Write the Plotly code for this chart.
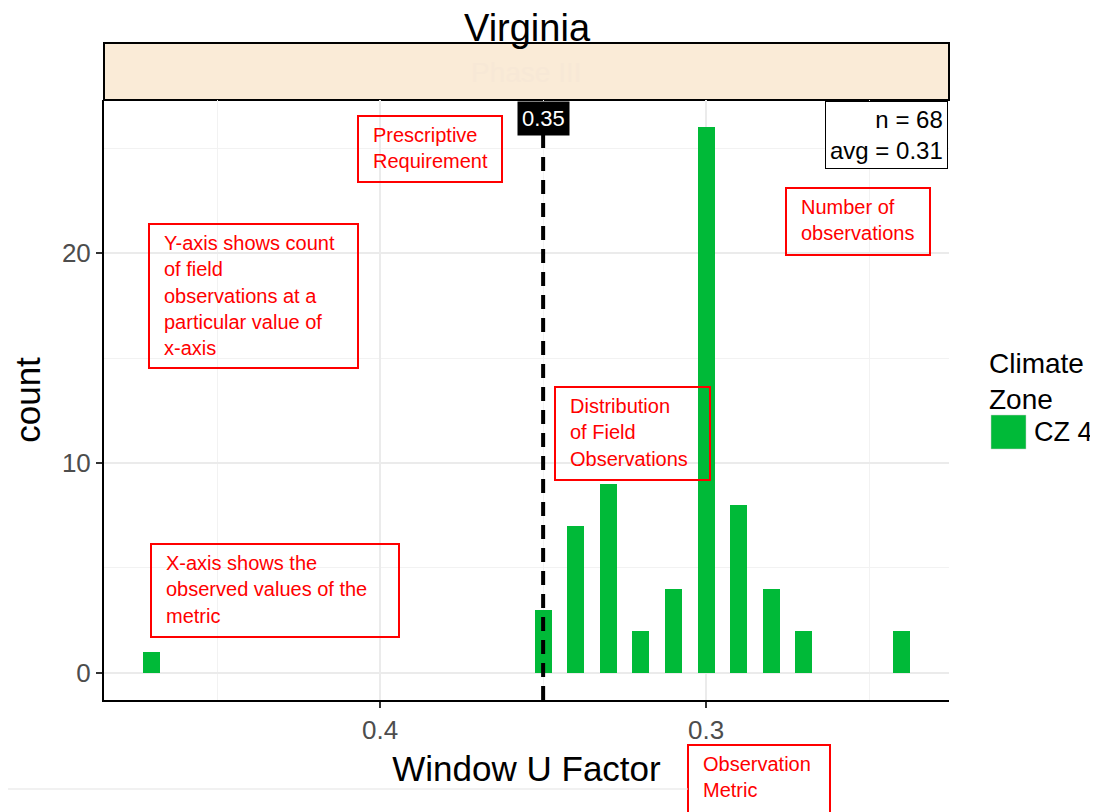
import plotly.graph_objects as go

# observed window U-factor values and counts
u_factor = [0.47, 0.35, 0.34, 0.33, 0.32, 0.31, 0.30, 0.29, 0.28, 0.27, 0.24]
counts = [1, 3, 7, 9, 2, 4, 26, 8, 4, 2, 2]
requirement = 0.35
n_obs = 68
avg_u = 0.31

# callout boxes: (x0, y0, x1, y1) in pixels, lines of text
callouts = [
    ((358, 116, 502, 182), ["Prescriptive", "Requirement"]),
    ((149, 224, 358, 368), ["Y-axis shows count", "of field", "observations at a",
                            "particular value of", "x-axis"]),
    ((786, 188, 930, 255), ["Number of", "observations"]),
    ((555, 387, 710, 480), ["Distribution", "of Field", "Observations"]),
    ((151, 544, 399, 637), ["X-axis shows the", "observed values of the", "metric"]),
    ((688, 745, 830, 816), ["Observation", "Metric"]),
]

# page body has an 8px margin, so the figure is shrunk by that much
OFF = 8
W, H = 1098 - OFF, 812 - OFF
# panel edges in window pixels
P_LEFT, P_RIGHT, P_TOP, P_BOTTOM = 104, 949, 100, 700
STRIP_TOP = 43


def px(x):
    return (x - P_LEFT) / (P_RIGHT - P_LEFT)


def py(y):
    return (P_BOTTOM - y) / (P_BOTTOM - STRIP_TOP)


GREEN = "#00BA38"
RED = "#FF0000"
FONT = "Liberation Sans, Arial, sans-serif"

fig = go.Figure()

fig.add_trace(
    go.Bar(
        x=u_factor,
        y=counts,
        width=0.0052,
        marker=dict(color=GREEN, line_width=0),
        name="CZ 4",
        showlegend=False,
    )
)

shapes = []
annotations = []

# strip above panel
shapes.append(dict(
    type="rect", xref="paper", yref="paper",
    x0=0, x1=1, y0=py(P_TOP), y1=1,
    fillcolor="#FAEBD7", line=dict(color="black", width=2), layer="below",
))
annotations.append(dict(
    text="Phase III", xref="paper", yref="paper", x=0.5, y=py(72),
    yanchor="middle", showarrow=False, font=dict(family=FONT, size=28, color="#F7E8D6"),
))

# prescriptive requirement line
shapes.append(dict(
    type="line", xref="x", yref="paper",
    x0=requirement, x1=requirement, y0=0, y1=py(P_TOP + 28),
    line=dict(color="black", width=4, dash="14px,9px"),
))
annotations.append(dict(
    text=f"{requirement:.2f}", xref="x", yref="paper", x=requirement, y=py(118),
    yanchor="middle", showarrow=False, bgcolor="black", borderpad=4,
    font=dict(family=FONT, size=22, color="white"),
))

# n / avg box
annotations.append(dict(
    text=f"n = {n_obs}<br>avg = {avg_u:.2f}", xref="paper", yref="paper",
    x=px(948), y=py(101), xanchor="right", yanchor="top", align="right",
    showarrow=False, bgcolor="white", bordercolor="black", borderwidth=1, borderpad=4,
    font=dict(family=FONT, size=24, color="black"),
))

# red callouts
for (x0, y0, x1, y1), lines in callouts:
    shapes.append(dict(
        type="rect", xref="paper", yref="paper",
        x0=px(x0), x1=px(x1), y0=py(y1), y1=py(y0),
        line=dict(color=RED, width=2), fillcolor="rgba(0,0,0,0)",
    ))
    for i, line in enumerate(lines):
        annotations.append(dict(
            text=line, xref="paper", yref="paper",
            x=px(x0 + 13), y=py(y0 + 19 + 26.3 * i),
            xanchor="left", yanchor="middle", showarrow=False,
            font=dict(family=FONT, size=20, color=RED),
        ))

# page divider line at bottom
shapes.append(dict(
    type="line", xref="paper", yref="paper",
    x0=px(0), x1=px(688), y0=py(789), y1=py(789),
    line=dict(color="#e3e3e3", width=1),
))

# manual legend
annotations.append(dict(
    text="Climate<br>Zone", xref="paper", yref="paper", x=px(987), y=py(346),
    xanchor="left", yanchor="top", align="left", showarrow=False,
    font=dict(family=FONT, size=28, color="black"),
))
shapes.append(dict(
    type="rect", xref="paper", yref="paper",
    x0=px(991), x1=px(1026), y0=py(449), y1=py(415),
    fillcolor=GREEN, line=dict(color="#cfcfcf", width=0.5),
))
annotations.append(dict(
    text="CZ 4", xref="paper", yref="paper", x=px(1032), y=py(432),
    xanchor="left", yanchor="middle", showarrow=False,
    font=dict(family=FONT, size=27, color="black"),
))

fig.update_layout(
    width=W,
    height=H,
    margin=dict(l=P_LEFT - OFF, r=1098 - P_RIGHT, t=STRIP_TOP - OFF, b=812 - P_BOTTOM),
    plot_bgcolor="white",
    paper_bgcolor="white",
    title=dict(
        text="Virginia", x=(527 - OFF) / W, xref="container",
        y=1 - (28 - OFF) / H, yref="container",
        xanchor="center", yanchor="middle",
        font=dict(family=FONT, size=38, color="black"),
    ),
    shapes=shapes,
    annotations=annotations,
    bargap=0,
    showlegend=False,
)

fig.update_xaxes(
    range=[0.4847, 0.2255],
    tickvals=[0.4, 0.3],
    ticktext=["0.4", "0.3"],
    ticks="outside", ticklen=6, tickwidth=2, tickcolor="#333333",
    tickfont=dict(family=FONT, size=26, color="#4d4d4d"),
    showgrid=True, gridcolor="#ebebeb", gridwidth=2,
    minor=dict(tickvals=[0.45, 0.35, 0.25], showgrid=True, gridcolor="#f2f2f2", gridwidth=1),
    showline=True, linecolor="black", linewidth=2,
    zeroline=False,
    title=dict(text="Window U Factor", standoff=12,
               font=dict(family=FONT, size=35, color="black")),
)

fig.update_yaxes(
    domain=[0, py(P_TOP)],
    range=[-1.3, 27.3],
    tickvals=[0, 10, 20],
    ticks="outside", ticklen=6, tickwidth=2, tickcolor="#333333",
    tickfont=dict(family=FONT, size=26, color="#4d4d4d"),
    showgrid=True, gridcolor="#ebebeb", gridwidth=2,
    minor=dict(tickvals=[5, 15, 25], showgrid=True, gridcolor="#f2f2f2", gridwidth=1),
    showline=True, linecolor="black", linewidth=2,
    zeroline=False,
    title=dict(text="count", standoff=12,
               font=dict(family=FONT, size=35, color="black")),
)

fig.write_html("out.html")
